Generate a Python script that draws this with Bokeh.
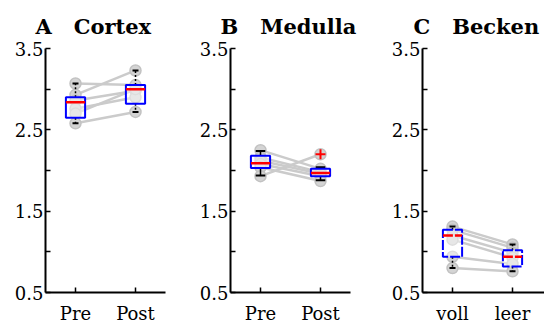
from bokeh.plotting import figure
from bokeh.layouts import row
from bokeh.models import FixedTicker, Range1d
from bokeh.embed import file_html
from bokeh.resources import INLINE

# ---------------- data ----------------
titles = ["A\u00a0\u00a0\u00a0Cortex", "B\u00a0\u00a0\u00a0Medulla", "C\u00a0\u00a0\u00a0Becken"]
group_labels = [["Pre", "Post"], ["Pre", "Post"], ["voll", "leer"]]

cortex_pre = [3.07, 2.93, 2.86, 2.76, 2.70, 2.58]
cortex_post = [3.05, 3.23, 2.98, 2.90, 3.00, 2.72]
medulla_pre = [2.25, 2.16, 2.12, 2.08, 2.04, 1.93]
medulla_post = [2.02, 1.98, 1.96, 1.93, 1.87, 2.20]
becken_voll = [1.31, 1.27, 1.20, 1.15, 0.94, 0.80]
becken_leer = [1.09, 1.05, 0.99, 0.93, 0.85, 0.76]

# box statistics [first group, second group]
cortex_q1 = [2.65, 2.82]
cortex_med = [2.84, 3.00]
cortex_q3 = [2.90, 3.05]
cortex_lo = [2.58, 2.72]
cortex_hi = [3.07, 3.23]

medulla_q1 = [2.03, 1.93]
medulla_med = [2.09, 1.97]
medulla_q3 = [2.18, 2.02]
medulla_lo = [1.94, 1.88]
medulla_hi = [2.24, 2.04]
medulla_outliers = [[], [2.20]]

becken_q1 = [0.94, 0.82]
becken_med = [1.20, 0.94]
becken_q3 = [1.27, 1.02]
becken_lo = [0.80, 0.76]
becken_hi = [1.31, 1.09]

y_ticks = [0.5, 1.0, 1.5, 2.0, 2.5, 3.0, 3.5]
y_labelled = [0.5, 1.5, 2.5, 3.5]

panels = [
    dict(title=titles[0], labels=group_labels[0], a=cortex_pre, b=cortex_post,
         q1=cortex_q1, med=cortex_med, q3=cortex_q3, lo=cortex_lo, hi=cortex_hi,
         out=[[], []], dash="solid", wdash="2 2", cap=0.05,
         width=175, bl=45, br=10, xmax=2.5, toff=-10),
    dict(title=titles[1], labels=group_labels[1], a=medulla_pre, b=medulla_post,
         q1=medulla_q1, med=medulla_med, q3=medulla_q3, lo=medulla_lo, hi=medulla_hi,
         out=medulla_outliers, dash="solid", wdash="solid", cap=0.08,
         width=185, bl=55, br=10, xmax=2.5, toff=-10),
    dict(title=titles[2], labels=group_labels[2], a=becken_voll, b=becken_leer,
         q1=becken_q1, med=becken_med, q3=becken_q3, lo=becken_lo, hi=becken_hi,
         out=[[], []], dash="10 2", wdash="2 2", cap=0.05,
         width=184, bl=62, br=0, xmax=2.5 + 2 / 60, toff=-9),
]

FONT = "DejaVu Serif"
HW = 0.16
figs = []
for pd_ in panels:
    p = figure(width=pd_["width"], height=326, output_backend="svg",
               toolbar_location=None, x_range=Range1d(0.5, pd_["xmax"]),
               y_range=Range1d(0.5, 3.5), min_border=0)
    p.min_border_left = pd_["bl"]
    p.min_border_right = pd_["br"]
    p.min_border_top = 48
    p.min_border_bottom = 33
    p.outline_line_color = None
    p.grid.visible = False
    p.background_fill_color = "white"
    p.border_fill_color = "white"

    p.title.text = pd_["title"]
    p.title.text_font = FONT
    p.title.text_font_style = "bold"
    p.title.text_font_size = "21px"
    p.title.text_color = "black"
    p.title.align = "left"
    p.title.offset = pd_["toff"]
    p.title.standoff = 19

    for ax in (p.xaxis[0], p.yaxis[0]):
        ax.axis_line_width = 2
        ax.axis_line_color = "black"
        ax.major_tick_in = 5
        ax.major_tick_out = 0
        ax.minor_tick_in = 0
        ax.minor_tick_out = 0
        ax.major_tick_line_width = 1.5
        ax.major_label_text_font = FONT
        ax.major_label_text_font_size = "18px"
        ax.major_label_text_color = "black"
    p.yaxis[0].ticker = FixedTicker(ticks=y_ticks)
    p.yaxis[0].major_label_overrides = {t: (str(t) if t in y_labelled else "") for t in y_ticks}
    p.yaxis[0].major_label_standoff = 2
    p.xaxis[0].ticker = FixedTicker(ticks=[1, 2])
    p.xaxis[0].major_label_overrides = {1: pd_["labels"][0], 2: pd_["labels"][1]}
    p.xaxis[0].major_label_standoff = 10

    a, b = pd_["a"], pd_["b"]
    n = len(a)
    # paired lines
    p.segment(x0=[1] * n, y0=a, x1=[2] * n, y1=b, line_color="#cbcbcb", line_width=2.5)
    # points
    p.scatter(x=[1] * n + [2] * n, y=a + b, size=11, fill_color="#d4d4d4",
              line_color="#c2c2c2", line_width=1.5)
    xs = [1, 2]
    # whiskers
    p.segment(x0=xs, y0=pd_["q3"], x1=xs, y1=pd_["hi"], line_color="black",
              line_width=1.5, line_dash=pd_["wdash"])
    p.segment(x0=xs, y0=pd_["q1"], x1=xs, y1=pd_["lo"], line_color="black",
              line_width=1.5, line_dash=pd_["wdash"])
    c = pd_["cap"]
    p.segment(x0=[x - c for x in xs] * 2, y0=pd_["hi"] + pd_["lo"],
              x1=[x + c for x in xs] * 2, y1=pd_["hi"] + pd_["lo"],
              line_color="black", line_width=2)
    # boxes
    p.quad(left=[x - HW for x in xs], right=[x + HW for x in xs],
           bottom=pd_["q1"], top=pd_["q3"], fill_color="white", fill_alpha=0.45,
           line_color="blue", line_width=2, line_dash=pd_["dash"])
    # medians
    p.segment(x0=[x - HW for x in xs], y0=pd_["med"], x1=[x + HW for x in xs],
              y1=pd_["med"], line_color="red", line_width=2.5, line_dash=pd_["dash"])
    # outliers
    ox, oy = [], []
    for i, vals in enumerate(pd_["out"]):
        ox += [xs[i]] * len(vals)
        oy += vals
    if ox:
        p.scatter(x=ox, y=oy, marker="cross", size=10, line_color="red", line_width=2)
    figs.append(p)

layout = row(*figs, spacing=0)
open("out.html", "w").write(file_html(layout, INLINE))
